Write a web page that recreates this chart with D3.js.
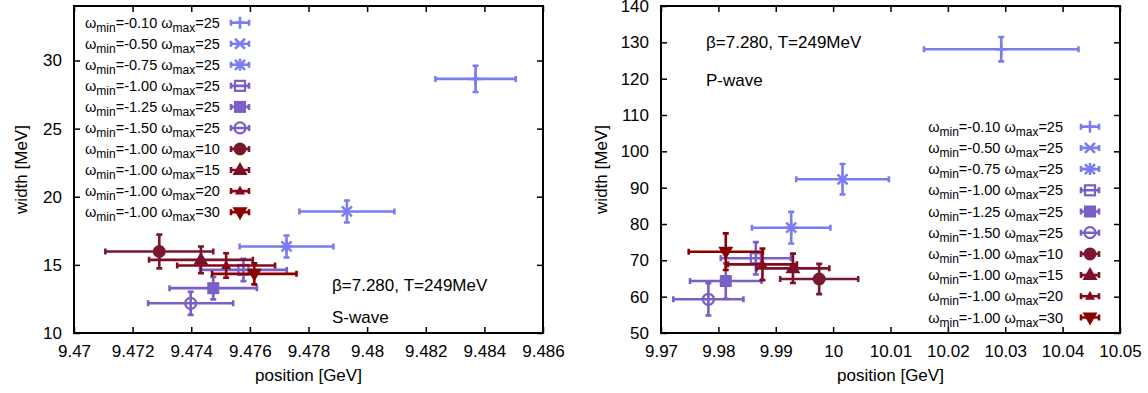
<!DOCTYPE html>
<html>
<head>
<meta charset="utf-8">
<script src="https://cdn.jsdelivr.net/npm/d3@7"></script>
<style>
  body { margin: 0; background: #fff; }
  svg { font-family: "Liberation Sans", Arial, Helvetica, sans-serif; }
</style>
</head>
<body>
<svg width="1148" height="393"></svg>
<script>
// legend labels (same for both panels)
var omin = ["-0.10", "-0.50", "-0.75", "-1.00", "-1.25", "-1.50", "-1.00", "-1.00", "-1.00", "-1.00"];
var omax = ["25", "25", "25", "25", "25", "25", "10", "15", "20", "30"];

// S-wave (left)
var sPos  = [9.48370, 9.47931, 9.47725, 9.47578, 9.47475, 9.47398, 9.47291, 9.47433, 9.47519, 9.47615];
var sPosE = [0.00137, 0.00162, 0.00160, 0.00148, 0.00149, 0.00145, 0.00184, 0.00177, 0.00167, 0.00144];
var sWid  = [28.65, 18.92, 16.35, 14.63, 13.29, 12.18, 15.98, 15.37, 14.95, 14.34];
var sWidE = [0.96, 0.81, 0.81, 0.82, 0.82, 0.85, 1.24, 0.98, 0.90, 0.77];

// P-wave (right)
var pPos  = [10.0293, 10.00164, 9.99269, 9.98653, 9.98129, 9.97826, 9.99757, 9.99300, 9.98768, 9.98129];
var pPosE = [0.01347, 0.00808, 0.00684, 0.00611, 0.00623, 0.00611, 0.00680, 0.00634, 0.00600, 0.00646];
var pWid  = [128.1, 92.3, 78.98, 70.56, 64.3, 59.28, 64.86, 67.8, 68.9, 72.38];
var pWidE = [3.35, 4.2, 4.35, 4.45, 4.87, 4.45, 4.17, 4.04, 4.36, 5.05];

// tick values
var sXTicks = [9.47, 9.472, 9.474, 9.476, 9.478, 9.48, 9.482, 9.484, 9.486];
var sYTicks = [10, 15, 20, 25, 30];
var pXTicks = [9.97, 9.98, 9.99, 10, 10.01, 10.02, 10.03, 10.04, 10.05];
var pYTicks = [50, 60, 70, 80, 90, 100, 110, 120, 130, 140];

var colors = ["#7b7bf2", "#7b7bf2", "#7b7bf2", "#7a5fc6", "#7a5fc6", "#7a5fc6",
              "#7a1830", "#7c1028", "#86081a", "#8a0000"];
var shapes = ["plus", "cross", "star", "osquare", "fsquare", "ocircle",
              "fcircle", "ftri", "stri", "dtri"];

var svg = d3.select("svg");

function marker(g, shape, color) {
  var s = 5;
  if (shape == "plus" || shape == "star") {
    g.append("path").attr("d", "M-6,0H6M0,-6V6").attr("stroke", color).attr("stroke-width", 2.5);
  }
  if (shape == "cross" || shape == "star") {
    g.append("path").attr("d", "M-5,-5L5,5M-5,5L5,-5").attr("stroke", color).attr("stroke-width", 2.5);
  }
  if (shape == "osquare") {
    g.append("rect").attr("x", -s).attr("y", -s).attr("width", 2 * s).attr("height", 2 * s)
      .attr("fill", "none").attr("stroke", color).attr("stroke-width", 2.2);
  }
  if (shape == "fsquare") {
    g.append("rect").attr("x", -6).attr("y", -6).attr("width", 12).attr("height", 12).attr("fill", color);
  }
  if (shape == "ocircle") {
    g.append("circle").attr("r", 5.5).attr("fill", "none").attr("stroke", color).attr("stroke-width", 2.2);
  }
  if (shape == "fcircle") {
    g.append("circle").attr("r", 6.5).attr("fill", color);
  }
  if (shape == "ftri") {
    g.append("path").attr("d", "M0,-8L7.5,5L-7.5,5Z").attr("fill", color);
  }
  if (shape == "stri") {
    g.append("path").attr("d", "M0,-5.5L5,3.5L-5,3.5Z").attr("fill", color);
  }
  if (shape == "dtri") {
    g.append("path").attr("d", "M0,8L7.5,-5L-7.5,-5Z").attr("fill", color);
  }
}

function errbar(g, x, y, x1, x2, y1, y2, color) {
  var c = 3;
  var d = "M" + x1 + "," + y + "H" + x2 +
          "M" + x1 + "," + (y - c) + "V" + (y + c) +
          "M" + x2 + "," + (y - c) + "V" + (y + c) +
          "M" + x + "," + y1 + "V" + y2 +
          "M" + (x - c) + "," + y1 + "H" + (x + c) +
          "M" + (x - c) + "," + y2 + "H" + (x + c);
  g.append("path").attr("d", d).attr("fill", "none").attr("stroke", color).attr("stroke-width", 2.6);
}

function legendLabel(t, i) {
  t.append("tspan").text("\u03c9");
  t.append("tspan").attr("font-size", 12).attr("dy", 4).text("min");
  t.append("tspan").attr("dy", -4).text("=" + omin[i] + " \u03c9");
  t.append("tspan").attr("font-size", 12).attr("dy", 4).text("max");
  t.append("tspan").attr("dy", -4).text("=" + omax[i]);
}

function panel(opt) {
  var x = d3.scaleLinear().domain(opt.xd).range([opt.left, opt.right]);
  var y = d3.scaleLinear().domain(opt.yd).range([opt.bottom, opt.top]);
  var g = svg.append("g");

  var fmtX = d3.format(opt.xfmt);
  var tk = 6;

  // ticks (inward, mirrored)
  g.append("g").attr("transform", "translate(0," + opt.bottom + ")")
    .call(d3.axisBottom(x).tickValues(opt.xt).tickSize(-tk).tickFormat(fmtX).tickPadding(12))
    .call(function(a) { a.select(".domain").remove(); });
  g.append("g").attr("transform", "translate(0," + opt.top + ")")
    .call(d3.axisTop(x).tickValues(opt.xt).tickSize(-tk).tickFormat(""))
    .call(function(a) { a.select(".domain").remove(); });
  g.append("g").attr("transform", "translate(" + opt.left + ",0)")
    .call(d3.axisLeft(y).tickValues(opt.yt).tickSize(-tk).tickPadding(12))
    .call(function(a) { a.select(".domain").remove(); });
  g.append("g").attr("transform", "translate(" + opt.right + ",0)")
    .call(d3.axisRight(y).tickValues(opt.yt).tickSize(-tk).tickFormat(""))
    .call(function(a) { a.select(".domain").remove(); });

  g.selectAll(".tick line").attr("stroke", "#000").attr("stroke-width", 1.5);
  g.selectAll(".tick text").attr("font-size", 17).attr("fill", "#000")
    .attr("font-family", "Liberation Sans, Arial, sans-serif");

  g.append("rect").attr("x", opt.left).attr("y", opt.top)
    .attr("width", opt.right - opt.left).attr("height", opt.bottom - opt.top)
    .attr("fill", "none").attr("stroke", "#000").attr("stroke-width", 2);

  // axis titles
  g.append("text").attr("x", (opt.left + opt.right) / 2).attr("y", 381)
    .attr("text-anchor", "middle").attr("font-size", 17).text("position [GeV]");
  g.append("text").attr("transform", "translate(" + opt.ylabX + "," + (opt.top + opt.bottom) / 2 + ") rotate(-90)")
    .attr("text-anchor", "middle").attr("font-size", 17).text("width [MeV]");

  // annotations
  g.append("text").attr("x", opt.ann[0]).attr("y", opt.ann[1]).attr("font-size", 17).text("\u03b2=7.280, T=249MeV");
  g.append("text").attr("x", opt.ann[0]).attr("y", opt.ann[2]).attr("font-size", 17).text(opt.wave);

  // data
  for (var i = 0; i < opt.px.length; i++) {
    var sg = g.append("g");
    var cx = x(opt.px[i]), cy = y(opt.wy[i]);
    errbar(sg, cx, cy, x(opt.px[i] - opt.pe[i]), x(opt.px[i] + opt.pe[i]),
           y(opt.wy[i] + opt.we[i]), y(opt.wy[i] - opt.we[i]), colors[i]);
    var mg = sg.append("g").attr("transform", "translate(" + cx + "," + cy + ")");
    marker(mg, shapes[i], colors[i]);
  }

  // legend
  for (var j = 0; j < omin.length; j++) {
    var ly = opt.leg.y0 + j * opt.leg.dy;
    var t = g.append("text").attr("x", opt.leg.tx).attr("y", ly + 5).attr("font-size", 14.5)
      .attr("text-anchor", opt.leg.anchor);
    legendLabel(t, j);
    var lg = g.append("g");
    var sx = opt.leg.sx;
    lg.append("path").attr("d", "M" + (sx - 9) + "," + ly + "H" + (sx + 9) +
        "M" + (sx - 9) + "," + (ly - 3) + "V" + (ly + 3) +
        "M" + (sx + 9) + "," + (ly - 3) + "V" + (ly + 3))
      .attr("stroke", colors[j]).attr("stroke-width", 2.6).attr("fill", "none");
    marker(lg.append("g").attr("transform", "translate(" + sx + "," + ly + ")"), shapes[j], colors[j]);
  }
}

panel({
  left: 74, right: 543, top: 6, bottom: 333,
  xd: [9.47, 9.486], yd: [10, 34], xt: sXTicks, yt: sYTicks, xfmt: ".4~f",
  px: sPos, pe: sPosE, wy: sWid, we: sWidE,
  ylabX: 27, ann: [332, 291, 323], wave: "S-wave",
  leg: { tx: 85, sx: 240, y0: 22.7, dy: 21.05, anchor: "start" }
});

panel({
  left: 661, right: 1120, top: 6, bottom: 333,
  xd: [9.97, 10.05], yd: [50, 140], xt: pXTicks, yt: pYTicks, xfmt: ".2~f",
  px: pPos, pe: pPosE, wy: pWid, we: pWidE,
  ylabX: 607, ann: [706, 48, 86], wave: "P-wave",
  leg: { tx: 1063, sx: 1090, y0: 126.7, dy: 21.2, anchor: "end" }
});
</script>
</body>
</html>
